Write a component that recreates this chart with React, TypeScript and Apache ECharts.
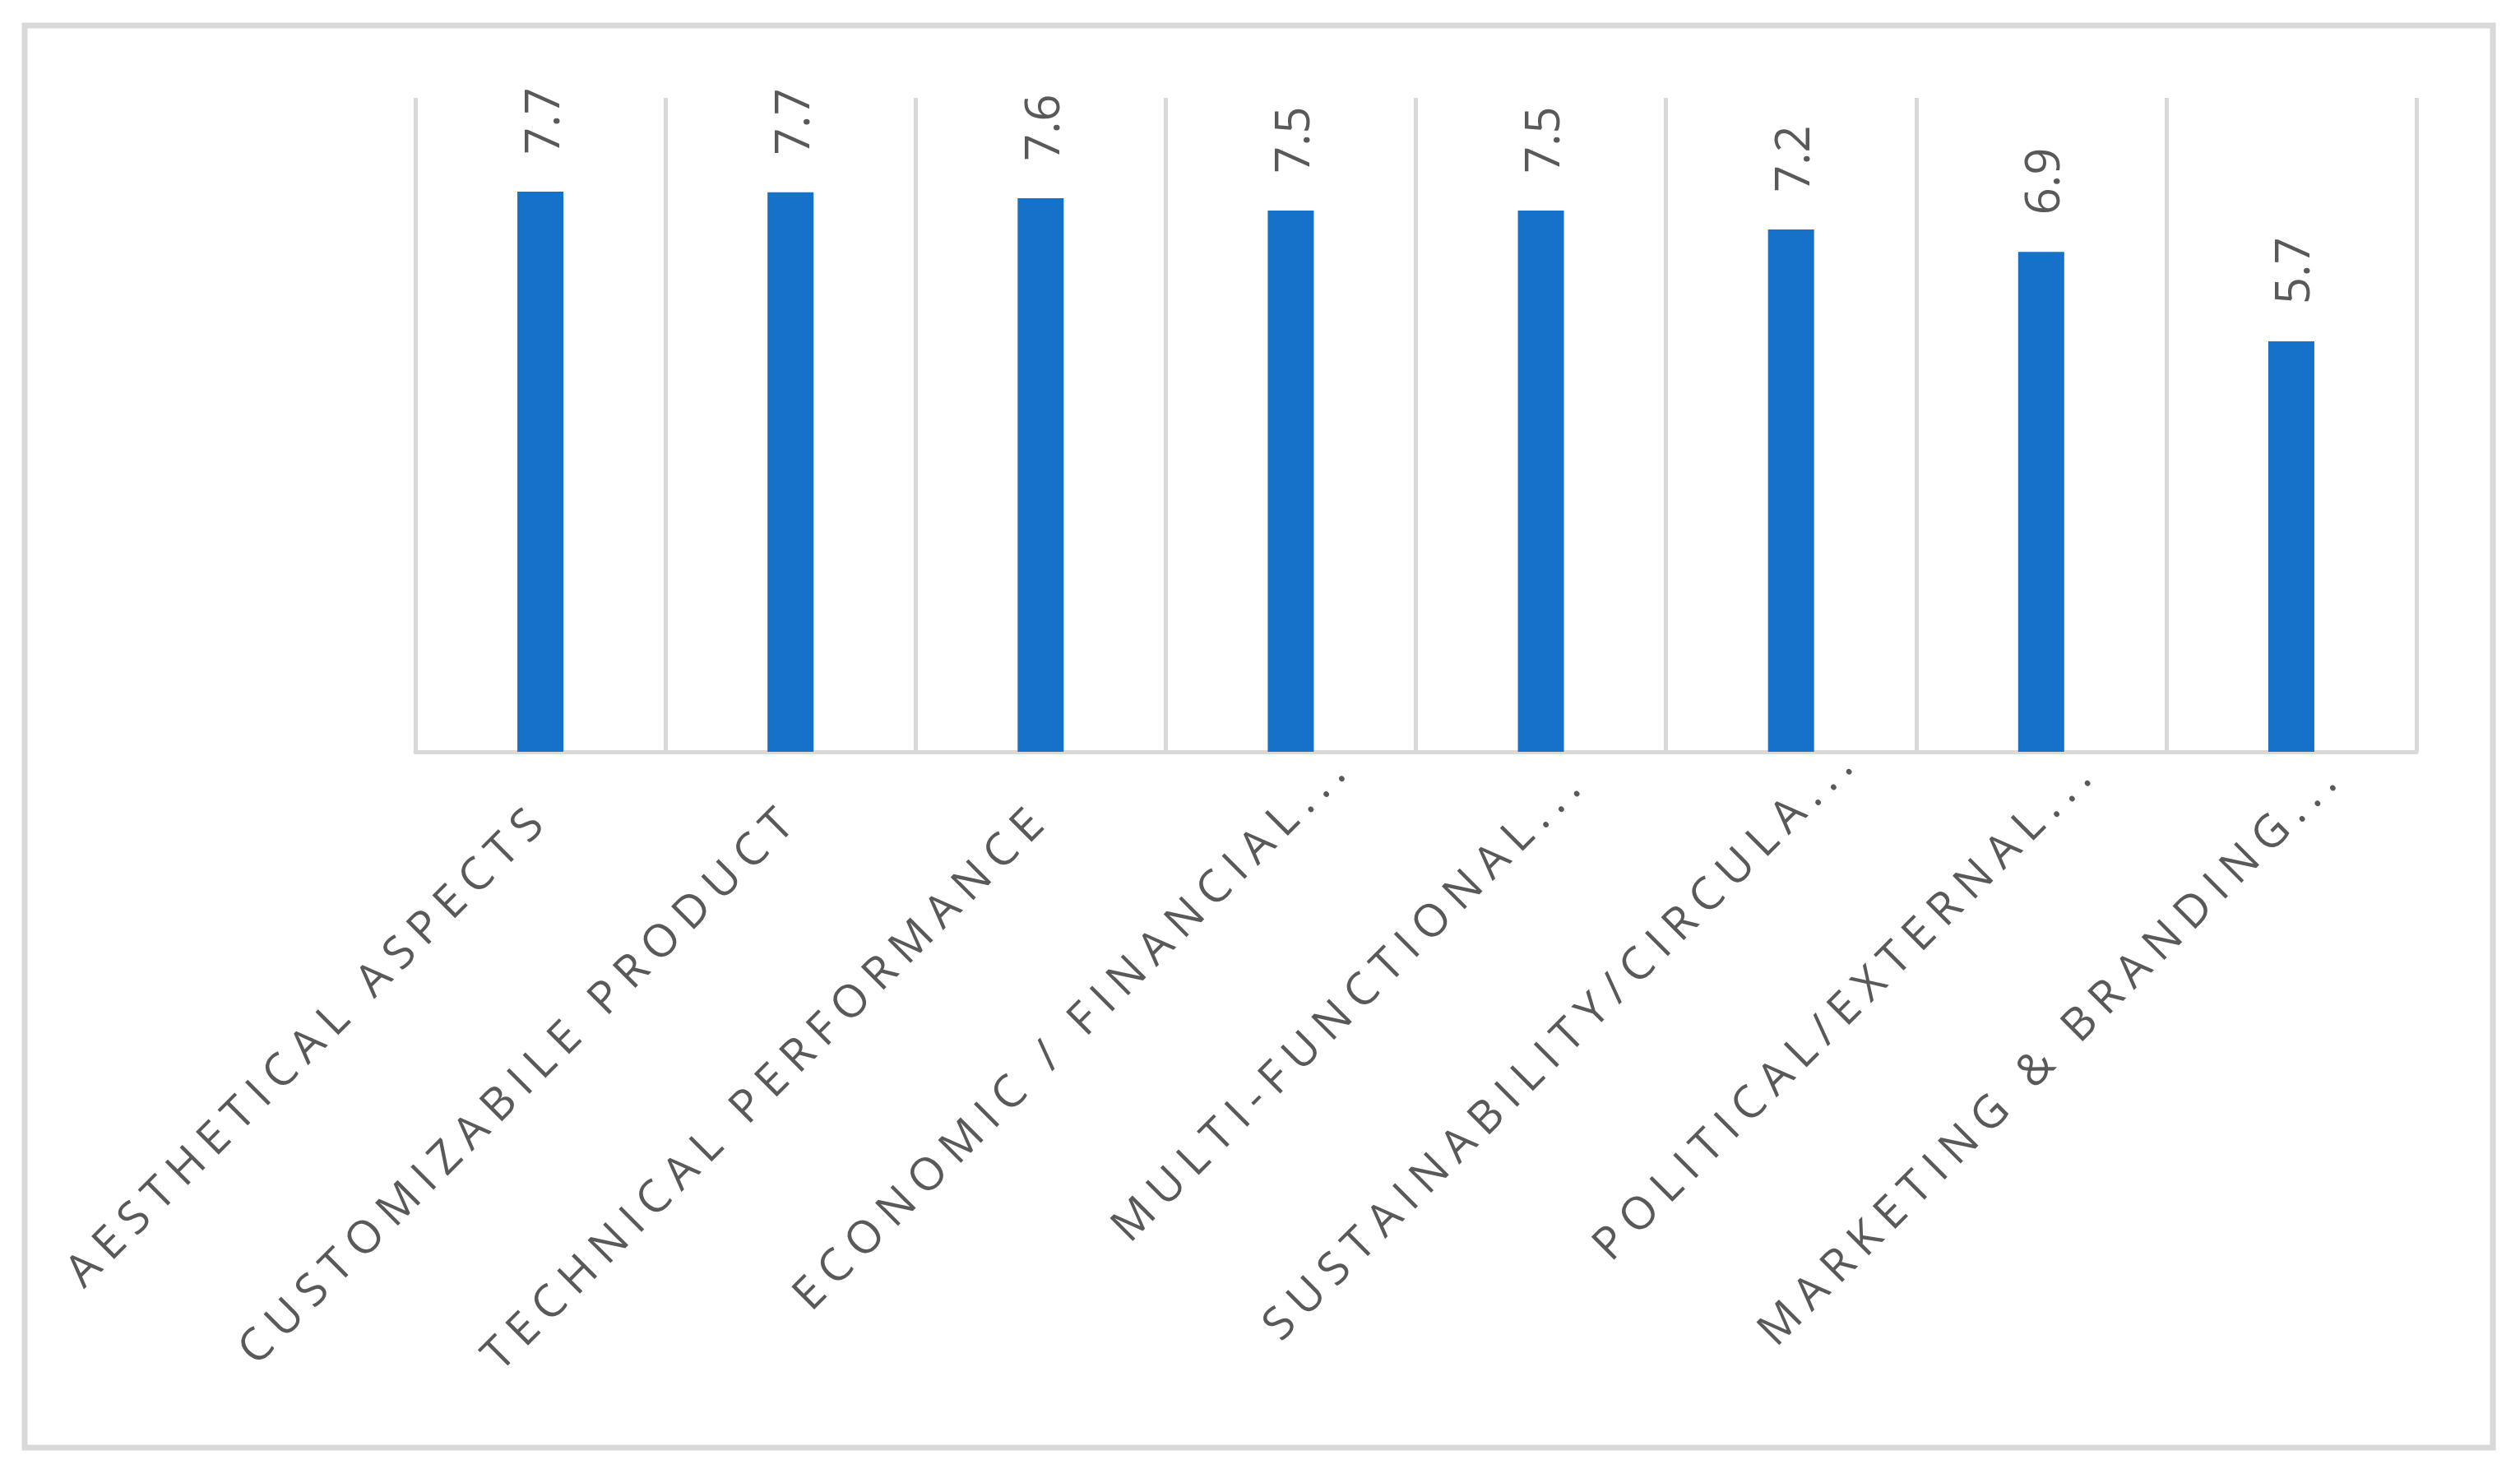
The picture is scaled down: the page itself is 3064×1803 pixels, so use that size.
import React, { useEffect, useRef } from "react";
import * as echarts from "echarts";

const categories: string[] = [
  "AESTHETICAL ASPECTS",
  "CUSTOMIZABILE PRODUCT",
  "TECHNICAL PERFORMANCE",
  "ECONOMIC / FINANCIAL...",
  "MULTI-FUNCTIONAL...",
  "SUSTAINABILITY/CIRCULA...",
  "POLITICAL/EXTERNAL...",
  "MARKETING & BRANDING...",
];

// bar heights; labels show one decimal
const values: number[] = [7.71, 7.7, 7.62, 7.45, 7.45, 7.19, 6.88, 5.65];

const yMin = 0;
const yMax = 9;

const W = 3064;
const H = 1803;
const GRAY = "#d9d9d9";
const TEXT = "#595959";
const BAR = "#1572c8";
const CAT_SPACING = 12;
// extra shift (px, along the text direction) of the truncated labels, as Excel lays them out
const LABEL_SHIFT: number[] = [0, 0, 0, 88, 62, 100, 80, 72];

export default function App() {
  const ref = useRef<HTMLDivElement>(null);

  useEffect(() => {
    const el = ref.current;
    if (!el) return;
    const chart = echarts.init(el, undefined, { renderer: "svg", width: W, height: H });

    chart.setOption({
      animation: false,
      backgroundColor: "#ffffff",
      graphic: [
        {
          type: "rect",
          z: -1,
          shape: { x: 30, y: 31, width: 3001, height: 1729 },
          style: { fill: "none", stroke: GRAY, lineWidth: 7 },
        },
      ],
      grid: { left: 505, right: 126, top: 119, bottom: 889, containLabel: false },
      xAxis: {
        type: "category",
        data: categories,
        boundaryGap: true,
        axisLine: { show: true, lineStyle: { color: GRAY, width: 5 } },
        axisTick: { show: false },
        splitLine: { show: true, lineStyle: { color: GRAY, width: 5 } },
        axisLabel: {
          interval: 0,
          rotate: 45,
          margin: 68,
          color: TEXT,
          fontFamily: "Open Sans",
          fontSize: 55,
        },
      },
      yAxis: {
        type: "value",
        min: yMin,
        max: yMax,
        show: false,
        splitLine: { show: false },
      },
      series: [
        {
          type: "bar",
          data: values,
          barWidth: 56,
          itemStyle: { color: BAR },
          label: {
            show: true,
            position: "top",
            distance: 45,
            rotate: 90,
            align: "left",
            verticalAlign: "middle",
            color: TEXT,
            fontFamily: "Open Sans",
            fontSize: 58,
            formatter: (p: any) => Number(p.value).toFixed(1),
          },
        },
      ],
    });

    const applySpacing = () => {
      el.querySelectorAll("text").forEach((t) => {
        const idx = categories.indexOf((t.textContent || "").trim());
        if (idx >= 0) {
          t.setAttribute("letter-spacing", String(CAT_SPACING));
          (t as any).style.letterSpacing = CAT_SPACING + "px";
          if (LABEL_SHIFT[idx]) t.setAttribute("dx", String(LABEL_SHIFT[idx]));
        }
      });
    };
    applySpacing();
    chart.on("finished", applySpacing);

    return () => {
      chart.dispose();
    };
  }, []);

  return (
    <div
      ref={ref}
      style={{ position: "absolute", left: 0, top: 0, width: W, height: H, background: "#fff" }}
    />
  );
}
